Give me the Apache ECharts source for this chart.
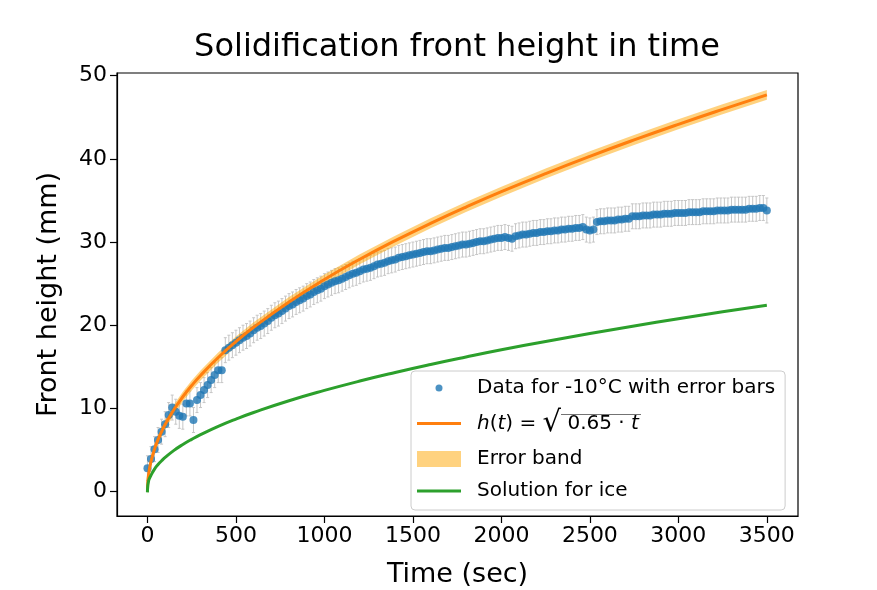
<!DOCTYPE html>
<html>
<head>
<meta charset="utf-8">
<title>Solidification front height in time</title>
<script src="https://cdn.jsdelivr.net/npm/echarts@6/dist/echarts.min.js"></script>
<style>
  html, body { margin: 0; padding: 0; background: #fff; }
  #chart { width: 877px; height: 590px; }
</style>
</head>
<body>
<div id="chart"></div>
<script>
// measured front height (mm), one point every 20 s
const dataTime = [
  0, 20, 40, 60, 80, 100, 120, 140, 160, 180,
  200, 220, 240, 260, 280, 300, 320, 340, 360, 380,
  400, 420, 440, 460, 480, 500, 520, 540, 560, 580,
  600, 620, 640, 660, 680, 700, 720, 740, 760, 780,
  800, 820, 840, 860, 880, 900, 920, 940, 960, 980,
  1000, 1020, 1040, 1060, 1080, 1100, 1120, 1140, 1160, 1180,
  1200, 1220, 1240, 1260, 1280, 1300, 1320, 1340, 1360, 1380,
  1400, 1420, 1440, 1460, 1480, 1500, 1520, 1540, 1560, 1580,
  1600, 1620, 1640, 1660, 1680, 1700, 1720, 1740, 1760, 1780,
  1800, 1820, 1840, 1860, 1880, 1900, 1920, 1940, 1960, 1980,
  2000, 2020, 2040, 2060, 2080, 2100, 2120, 2140, 2160, 2180,
  2200, 2220, 2240, 2260, 2280, 2300, 2320, 2340, 2360, 2380,
  2400, 2420, 2440, 2460, 2480, 2500, 2520, 2540, 2560, 2580,
  2600, 2620, 2640, 2660, 2680, 2700, 2720, 2740, 2760, 2780,
  2800, 2820, 2840, 2860, 2880, 2900, 2920, 2940, 2960, 2980,
  3000, 3020, 3040, 3060, 3080, 3100, 3120, 3140, 3160, 3180,
  3200, 3220, 3240, 3260, 3280, 3300, 3320, 3340, 3360, 3380,
  3400, 3420, 3440, 3460, 3480, 3500
];
const dataHeight = [
  2.8, 3.9, 5.1, 6.2, 7.2, 8.1, 9.2, 10.1, 9.6, 9.1,
  9.0, 10.6, 10.6, 8.6, 11.0, 11.6, 12.2, 12.8, 13.4, 14.0,
  14.6, 14.6, 17.0, 17.3, 17.6, 17.9, 18.2, 18.5, 18.7, 19.0,
  19.4, 19.7, 19.9, 20.2, 20.5, 20.9, 21.2, 21.4, 21.7, 22.0,
  22.3, 22.5, 22.8, 23.0, 23.2, 23.5, 23.7, 24.0, 24.2, 24.4,
  24.7, 24.9, 25.1, 25.3, 25.4, 25.6, 25.8, 26.0, 26.2, 26.3,
  26.5, 26.7, 26.8, 26.9, 27.1, 27.3, 27.4, 27.5, 27.7, 27.8,
  27.9, 28.1, 28.2, 28.3, 28.4, 28.5, 28.6, 28.7, 28.8, 28.9,
  28.9, 29.0, 29.1, 29.2, 29.3, 29.3, 29.4, 29.5, 29.6, 29.7,
  29.7, 29.8, 29.9, 30.0, 30.1, 30.1, 30.2, 30.3, 30.4, 30.5,
  30.5, 30.6, 30.5, 30.4, 30.7, 30.8, 30.9, 30.9, 31.0, 31.1,
  31.1, 31.2, 31.2, 31.3, 31.3, 31.4, 31.4, 31.5, 31.5, 31.6,
  31.6, 31.7, 31.7, 31.8, 31.5, 31.4, 31.5, 32.4, 32.5, 32.5,
  32.6, 32.6, 32.6, 32.7, 32.7, 32.8, 32.8, 33.1, 33.1, 33.1,
  33.2, 33.2, 33.2, 33.3, 33.3, 33.3, 33.4, 33.4, 33.4, 33.5,
  33.5, 33.5, 33.5, 33.6, 33.6, 33.6, 33.6, 33.7, 33.7, 33.7,
  33.7, 33.8, 33.8, 33.8, 33.8, 33.9, 33.9, 33.9, 33.9, 33.9,
  34.0, 34.0, 34.0, 34.1, 34.1, 33.8
];
const dataError = 1.5;

// curves
const curveTime = [0, 2, 5, 10, 20, 40, 60, 80, 100, 150, 200, 250, 300, 400, 500, 600,
  800, 1000, 1200, 1400, 1600, 1800, 2000, 2250, 2500, 2750, 3000, 3250, 3500];
const fitHeight = [0, 1.14, 1.80, 2.55, 3.61, 5.10, 6.24, 7.21, 8.06, 9.87, 11.40, 12.75, 13.96, 16.12, 18.03, 19.75,
  22.80, 25.50, 27.93, 30.17, 32.25, 34.21, 36.06, 38.24, 40.31, 42.28, 44.16, 45.96, 47.70];
const bandLow = [-0.6, 0.54, 1.20, 1.95, 3.01, 4.50, 5.64, 6.61, 7.46, 9.27, 10.80, 12.15, 13.36, 15.52, 17.43, 19.15,
  22.20, 24.90, 27.33, 29.57, 31.65, 33.61, 35.46, 37.64, 39.71, 41.68, 43.56, 45.36, 47.10];
const bandHigh = [0.6, 1.74, 2.40, 3.15, 4.21, 5.70, 6.84, 7.81, 8.66, 10.47, 12.00, 13.35, 14.56, 16.72, 18.63, 20.35,
  23.40, 26.10, 28.53, 30.77, 32.85, 34.81, 36.66, 38.84, 40.91, 42.88, 44.76, 46.56, 48.30];
const iceHeight = [-0.1, 0.7, 1.1, 1.5, 1.95, 2.7, 3.25, 3.7, 4.1, 4.95, 5.66, 6.28, 6.84, 7.84, 8.72, 9.51,
  10.92, 12.16, 13.29, 14.32, 15.28, 16.18, 17.04, 18.05, 19.0, 19.91, 20.78, 21.61, 22.41];

const xTicks = [0, 500, 1000, 1500, 2000, 2500, 3000, 3500];
const yTicks = [0, 10, 20, 30, 40, 50];

const nameData = 'Data for -10°C with error bars';
const nameFit = 'h(t) = √0.65·t';
const nameBand = 'Error band';
const nameIce = 'Solution for ice';

const font = "'DejaVu Sans', sans-serif";

// little bar image used as the overline of the square root
const barCanvas = document.createElement('canvas');
barCanvas.width = 4;
barCanvas.height = 26;
const bctx = barCanvas.getContext('2d');
bctx.fillStyle = '#000';
bctx.fillRect(0, 0, 4, 1.4);

const chart = echarts.init(document.getElementById('chart'));

const axisCommon = {
  axisLine: { show: true, onZero: false, lineStyle: { color: '#000', width: 1.2 } },
  splitLine: { show: false },
  nameTextStyle: { fontSize: 27, color: '#000', fontFamily: font }
};
const tickStyle = { show: true, length: 7, lineStyle: { color: '#000', width: 1.2 } };

const lineIcon = 'path://M0,0M44,16M0,6.5L44,6.5L44,9.5L0,9.5Z';

chart.setOption({
  animation: false,
  textStyle: { fontFamily: font },
  title: {
    text: 'Solidification front height in time',
    left: 457,
    top: 32,
    padding: 0,
    textAlign: 'center',
    textStyle: { fontSize: 32, fontWeight: 'normal', color: '#000', fontFamily: font }
  },
  grid: {
    left: 117, right: 79, top: 73, bottom: 74,
    containLabel: false,
    outerBoundsMode: 'none',
    show: true, borderColor: '#000', borderWidth: 1.2
  },
  xAxis: Object.assign({}, axisCommon, {
    type: 'value',
    min: -172,
    max: 3676,
    splitNumber: 8,
    name: 'Time (sec)',
    nameLocation: 'middle',
    nameGap: 45,
    axisTick: Object.assign({}, tickStyle, { customValues: xTicks }),
    axisLabel: {
      customValues: xTicks,
      formatter: v => String(v),
      fontSize: 22, color: '#000', margin: 9, fontFamily: font
    }
  }),
  yAxis: Object.assign({}, axisCommon, {
    type: 'value',
    min: -2.94,
    max: 50.33,
    splitNumber: 5,
    name: 'Front height (mm)',
    nameLocation: 'middle',
    nameGap: 55,
    axisTick: Object.assign({}, tickStyle, { customValues: yTicks }),
    axisLabel: {
      customValues: yTicks,
      formatter: v => String(v),
      fontSize: 22, color: '#000', margin: 10, fontFamily: font
    }
  }),
  legend: {
    orient: 'vertical',
    left: 411,
    top: 371,
    padding: [6, 10, 8, 6],
    itemWidth: 44,
    itemHeight: 16,
    itemGap: 10,
    selectedMode: false,
    backgroundColor: 'rgba(255,255,255,0.8)',
    borderColor: '#cccccc',
    borderWidth: 1,
    borderRadius: 4,
    data: [
      { name: nameData, icon: 'path://M0,0M44,16M25.5,8A3.5,3.5,0,1,1,18.5,8A3.5,3.5,0,1,1,25.5,8Z' },
      { name: nameFit, icon: lineIcon },
      { name: nameBand, icon: 'rect' },
      { name: nameIce, icon: lineIcon }
    ],
    formatter: function (name) {
      if (name === nameFit) {
        return '{it|h}({it|t}) = {rad|√}{ov| 0.65 · }{ovi|t}';
      }
      return name;
    },
    textStyle: {
      fontSize: 20, color: '#000', fontFamily: font, lineHeight: 22,
      padding: [0, 0, 0, 11],
      rich: {
        it: { fontSize: 20, fontStyle: 'italic', fontFamily: font, color: '#000' },
        rad: { fontSize: 29, fontFamily: font, color: '#000', lineHeight: 26 },
        ov: {
          fontSize: 20, fontFamily: font, color: '#000', lineHeight: 26,
          backgroundColor: { image: barCanvas }
        },
        ovi: {
          fontSize: 20, fontStyle: 'italic', fontFamily: font, color: '#000', lineHeight: 26,
          backgroundColor: { image: barCanvas }, padding: [0, 2, 0, 0]
        }
      }
    }
  },
  series: [
    {
      name: 'error bars',
      type: 'custom',
      silent: true,
      data: dataTime.map((t, i) => [t, dataHeight[i] - dataError, dataHeight[i] + dataError]),
      encode: { x: 0, y: [1, 2] },
      renderItem: function (params, api) {
        const lo = api.coord([api.value(0), api.value(1)]);
        const hi = api.coord([api.value(0), api.value(2)]);
        const cap = 1.5;
        const st = { stroke: '#c6c6c6', lineWidth: 1 };
        return {
          type: 'group',
          children: [
            { type: 'line', shape: { x1: lo[0], y1: lo[1], x2: hi[0], y2: hi[1] }, style: st },
            { type: 'line', shape: { x1: lo[0] - cap, y1: lo[1], x2: lo[0] + cap, y2: lo[1] }, style: st },
            { type: 'line', shape: { x1: hi[0] - cap, y1: hi[1], x2: hi[0] + cap, y2: hi[1] }, style: st }
          ]
        };
      }
    },
    {
      name: nameData,
      type: 'scatter',
      symbol: 'circle',
      symbolSize: 8,
      itemStyle: { color: '#1f77b4' },
      data: dataTime.map((t, i) => [t, dataHeight[i]])
    },
    {
      name: nameBand,
      type: 'custom',
      silent: true,
      itemStyle: { color: 'rgba(255,165,0,0.5)' },
      data: [[curveTime[0], fitHeight[0]]],
      renderItem: function (params, api) {
        const pts = [];
        curveTime.forEach((t, i) => pts.push(api.coord([t, bandHigh[i]])));
        for (let i = curveTime.length - 1; i >= 0; i--) {
          pts.push(api.coord([curveTime[i], bandLow[i]]));
        }
        return { type: 'polygon', shape: { points: pts }, style: { fill: 'rgba(255,165,0,0.5)' } };
      }
    },
    {
      name: nameFit,
      type: 'line',
      symbol: 'none',
      smooth: true,
      lineStyle: { color: '#ff7f0e', width: 3 },
      itemStyle: { color: '#ff7f0e' },
      data: curveTime.map((t, i) => [t, fitHeight[i]])
    },
    {
      name: nameIce,
      type: 'line',
      symbol: 'none',
      smooth: true,
      lineStyle: { color: '#2ca02c', width: 3 },
      itemStyle: { color: '#2ca02c' },
      data: curveTime.map((t, i) => [t, iceHeight[i]])
    }
  ]
});
</script>
</body>
</html>
